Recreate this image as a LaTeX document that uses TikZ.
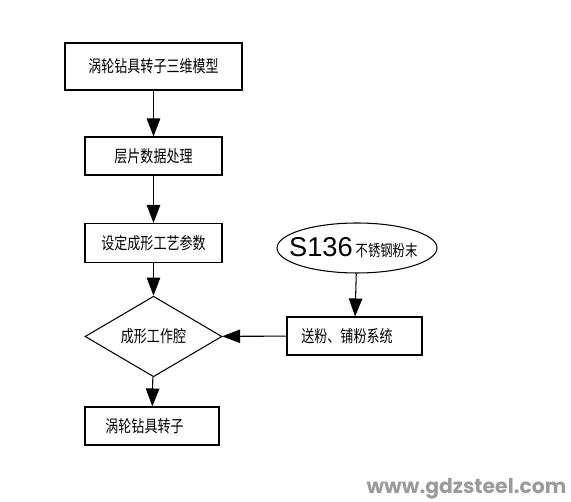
\documentclass[tikz,border=0pt]{standalone}
\usepackage{fontspec}
\newfontfamily\cjk[FakeStretch=0.78]{Noto Sans CJK SC}
\newfontfamily\gradefont{Liberation Sans}
\newfontfamily\webfont{Poppins}
\usetikzlibrary{arrows.meta}
\usetikzlibrary{shapes.geometric}
\definecolor{wmgray}{RGB}{155,155,155}
\tikzset{stage box/.style={
    rectangle, draw=black, line width=0.6pt,
    inner sep=0pt,
    minimum width=2.74cm, minimum height=0.76cm,
    font=\fontsize{9.5pt}{11pt}\cjk
}}
\tikzset{chamber/.style={
    diamond, draw=black, line width=0.6pt,
    inner sep=0pt,
    minimum width=2.74cm, minimum height=1.18cm,
    font=\fontsize{9.5pt}{11pt}\cjk
}}
\tikzset{powder/.style={
    ellipse, draw=black, line width=0.6pt,
    inner xsep=-0.2cm, inner ysep=0pt,
    minimum width=3.2cm, minimum height=1.0cm
}}
\tikzset{flow/.style={
    line width=0.6pt,
    -{Triangle[length=0.36cm, width=0.27cm]}
}}
\begin{document}
\begin{tikzpicture}[x=0.02cm, y=-0.02cm]
    \useasboundingbox (0,0) rectangle (571,502);

    \node (model)   [stage box, minimum width=3.54cm, minimum height=0.94cm]
                    at(153.5,66.5) {涡轮钻具转子三维模型};
    \node (slice)   [stage box]  at(153.5,156)  {层片数据处理};
    \node (param)   [stage box, minimum height=0.78cm]
                    at(153.5,243)  {设定成形工艺参数};
    \node (cavity)  [chamber]    at(153.5,336.5) {成形工作腔};
    \node (rotor)   [stage box, minimum width=2.68cm]
                    at(152,426)    {\hspace*{-0.3cm}涡轮钻具转子};
    \node (steel)   [powder]     at(357,248)
                    {\hspace*{-0.15cm}{\fontsize{15.5pt}{18pt}\gradefont S136}\,{\fontsize{9pt}{10pt}\cjk 不锈钢粉末}};
    \node (feed)    [stage box, minimum width=2.7cm]
                    at(354.5,336)  {\hspace*{-0.3cm}送粉、铺粉系统};

    \node (site)    [text=wmgray, font=\fontsize{11.6pt}{14pt}\webfont\bfseries, inner sep=0pt]
                    at(466.5,489) {www.gdzsteel.com};

    % edges
    \path [flow]
      (model) edge (slice)
      (slice) edge (param)
      (param) edge (cavity)
      (cavity) edge (rotor)
      (steel) edge (feed)
      (feed) edge (cavity)
      ;
\end{tikzpicture}
\end{document}
